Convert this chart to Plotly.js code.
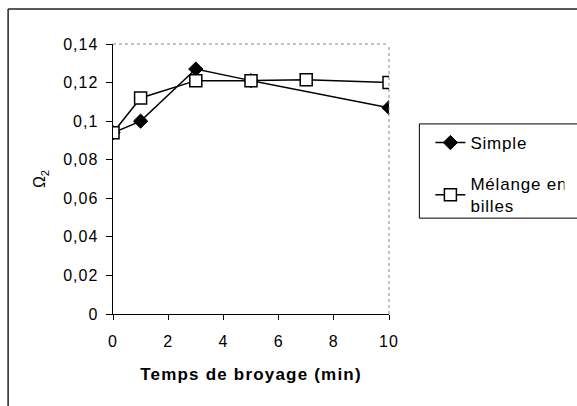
<!DOCTYPE html>
<html>
<head>
<meta charset="utf-8">
<script src="https://cdn.plot.ly/plotly-3.0.1.min.js"></script>
<style>
html,body{margin:0;padding:0;background:#fff;}
#chart{width:577px;height:406px;}
#chart .xtick text, #chart .ytick text {letter-spacing: 1px;}
#chart .xtitle {letter-spacing: 1.2px;}
#chart .legendtext {letter-spacing: 0.8px;}
</style>
</head>
<body>
<div id="chart"></div>
<script>
var timeSimple = [0, 1, 3, 5, 10];
var omegaSimple = [0.094, 0.100, 0.127, 0.121, 0.107];
var timeMelange = [0, 1, 3, 5, 7, 10];
var omegaMelange = [0.094, 0.112, 0.121, 0.121, 0.1215, 0.120];
var seriesNames = ["Simple", "Mélange en<br>billes"];
var xTitle = "Temps de broyage (min)";
var yTitle = "Ω<sub>2</sub>";

var font = "Liberation Sans, Arial, sans-serif";

var traces = [
  {
    x: timeSimple, y: omegaSimple, name: seriesNames[0], legendgroup: "a",
    mode: "lines+markers", type: "scatter",
    line: {color: "#000", width: 1.5},
    marker: {symbol: "diamond", size: 11, color: "#000", line: {color: "#000", width: 1}}
  },
  {
    x: timeMelange, y: omegaMelange, name: seriesNames[1], legendgroup: "b",
    mode: "lines+markers", type: "scatter",
    line: {color: "#000", width: 1.5},
    marker: {symbol: "square", size: 12, color: "#fff", line: {color: "#000", width: 1.5}}
  }
];

var layout = {
  width: 577, height: 406,
  margin: {l: 113, r: 188, t: 44, b: 92},
  paper_bgcolor: "#fff", plot_bgcolor: "#fff",
  separators: ", ",
  showlegend: true,
  font: {family: font, size: 16, color: "#000"},
  xaxis: {
    range: [0, 10], dtick: 2, tick0: 0,
    showgrid: false, zeroline: false,
    showline: true, linecolor: "#000", linewidth: 1,
    ticks: "outside", ticklen: 5, tickcolor: "#000",
    ticklabelstandoff: 8,
    tickfont: {family: font, size: 16},
    title: {text: xTitle, font: {family: font, size: 17, weight: "bold"}, standoff: 18}
  },
  yaxis: {
    range: [0, 0.14], dtick: 0.02, tick0: 0,
    showgrid: false, zeroline: false,
    showline: true, linecolor: "#000", linewidth: 1.5,
    ticks: "outside", ticklen: 6, tickcolor: "#000",
    ticklabelstandoff: 4,
    tickfont: {family: font, size: 16},
    title: {text: yTitle, font: {family: font, size: 16}, standoff: 17}
  },
  legend: {
    x: 1.15, y: 0.70, xanchor: "left", yanchor: "top",
    borderwidth: 0, bgcolor: "rgba(0,0,0,0)",
    font: {family: font, size: 17},
    traceorder: "grouped",
    tracegroupgap: 16
  },
  shapes: [
    {type: "line", xref: "paper", yref: "paper", x0: 0, x1: 1, y0: 1, y1: 1,
     line: {color: "#888", width: 1, dash: "dot"}},
    {type: "line", xref: "paper", yref: "paper", x0: 1, x1: 1, y0: 0, y1: 1,
     line: {color: "#888", width: 1, dash: "dot"}},
    {type: "line", xref: "paper", yref: "paper", x0: -0.38, x1: 1.7, y0: 1.13, y1: 1.13,
     line: {color: "#222", width: 1.5}},
    {type: "line", xref: "paper", yref: "paper", x0: -0.38, x1: -0.38, y0: -0.5, y1: 1.13,
     line: {color: "#222", width: 1.5}},
    {type: "rect", xref: "paper", yref: "paper", x0: 1.11, x1: 1.8, y0: 0.355, y1: 0.704,
     line: {color: "#000", width: 1}, fillcolor: "rgba(0,0,0,0)"}
  ]
};

Plotly.newPlot("chart", traces, layout, {displayModeBar: false, staticPlot: true});
</script>
</body>
</html>
